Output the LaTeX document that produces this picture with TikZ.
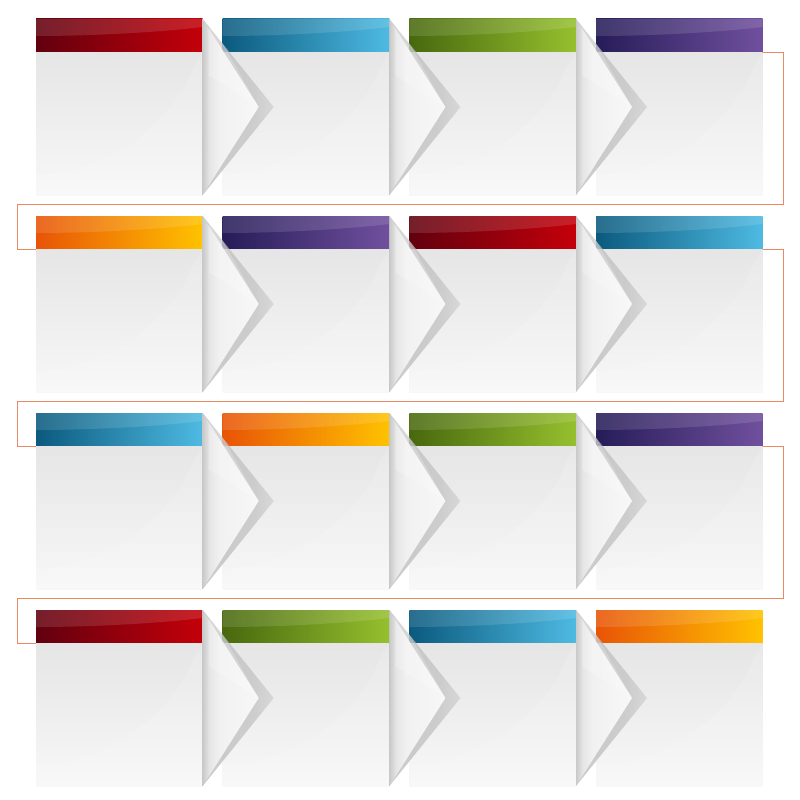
\documentclass[tikz,border=0pt]{standalone}
\usetikzlibrary{calc}
\definecolor{L-red}{HTML}{62000E}\definecolor{R-red}{HTML}{C4000A}
\definecolor{L-blue}{HTML}{0B5A7E}\definecolor{R-blue}{HTML}{4EBAE2}
\definecolor{L-green}{HTML}{48680E}\definecolor{R-green}{HTML}{96C02E}
\definecolor{L-purple}{HTML}{261C58}\definecolor{R-purple}{HTML}{70509E}
\definecolor{L-orange}{HTML}{E85406}\definecolor{R-orange}{HTML}{FFC200}
\definecolor{connc}{HTML}{E98A62}
\pgfdeclarehorizontalshading{foldsh}{100bp}{color(0bp)=(gray!42); color(25bp)=(gray!42); color(31bp)=(gray!20); color(40bp)=(gray!11); color(75bp)=(gray!6); color(100bp)=(gray!6)}
\pgfdeclarehorizontalshading{shadsh}{100bp}{color(0bp)=(gray!55); color(25bp)=(gray!55); color(60bp)=(gray!48); color(75bp)=(gray!36); color(100bp)=(gray!36)}
\newcommand\mychev[2]{%
  \coordinate (T) at (h#1#2.north east);
  \coordinate (B) at (b#1#2.south east);
  \coordinate (M) at ($(T)!.5!(B)$);
  \shade[shading=shadsh,opacity=.75] (T) -- ($(M)+(71,0)$) -- (B) -- cycle;
  \shade[shading=foldsh] (T) -- ($(M)+(56,0)$) -- (B) -- cycle;
  \fill[white,opacity=.22] ([xshift=6pt]T) -- ($(M)+(56,0)$) -- ($(T)!.32!(B)+(6,0)$) -- cycle;
}
\tikzset{
  hdr/.style={anchor=north west, inner sep=0pt, outer sep=0pt, minimum width=166.7pt, minimum height=33.7pt,
    path picture={\fill[white,opacity=.12] (path picture bounding box.north west) -- (path picture bounding box.north east)
      -- ([yshift=-8pt]path picture bounding box.north east)
      .. controls ([xshift=-50pt,yshift=-14pt]path picture bounding box.north east) and ([xshift=50pt,yshift=-17pt]path picture bounding box.north west)
      .. ([yshift=-17pt]path picture bounding box.north west) -- cycle;}},
  body/.style={anchor=north west, inner sep=0pt, outer sep=0pt, minimum width=166.7pt, minimum height=142.3pt,
    top color=gray!20, bottom color=gray!6,
    path picture={\fill[white,opacity=.14] ([yshift=20pt]path picture bounding box.south west)
      .. controls ([xshift=90pt,yshift=25pt]path picture bounding box.south west) and ([xshift=-20pt,yshift=-50pt]path picture bounding box.north east)
      .. ([xshift=-10pt,yshift=-15pt]path picture bounding box.north east) -- (path picture bounding box.north east) -- (path picture bounding box.south east) -- (path picture bounding box.south west) -- cycle;}},
  conn/.style={draw=connc, line width=1pt}
}
\begin{document}
\begin{tikzpicture}[x=1pt,y=-1pt]
\useasboundingbox[fill=white] (0,0) rectangle (800,800);
\foreach \r/\yy/\ca/\cb/\cc/\cd in {1/19/red/blue/green/purple, 2/216/orange/purple/red/blue, 3/413/blue/orange/green/purple, 4/610/red/green/blue/orange}{
  \foreach \c/\xx/\col in {1/36/\ca, 2/222.7/\cb, 3/409.3/\cc, 4/596/\cd}{
    \node[hdr, left color=L-\col, right color=R-\col] (h\r\c) at (\xx,\yy) {};
    \node[body] (b\r\c) at (h\r\c.south west) {};
  }
}
\foreach \r in {1,...,4}{\foreach \c in {1,2,3}{\mychev{\r}{\c}}}
\coordinate (R1) at (783.3,204); \coordinate (L1) at (17.3,204);
\coordinate (R2) at (783.3,401); \coordinate (L2) at (17.3,401);
\coordinate (R3) at (783.3,598); \coordinate (L3) at (17.3,598);
\draw[conn] (h14.south east) -| (R1) -- (L1) |- (h21.south west);
\draw[conn] (h24.south east) -| (R2) -- (L2) |- (h31.south west);
\draw[conn] (h34.south east) -| (R3) -- (L3) |- (h41.south west);
\end{tikzpicture}
\end{document}
